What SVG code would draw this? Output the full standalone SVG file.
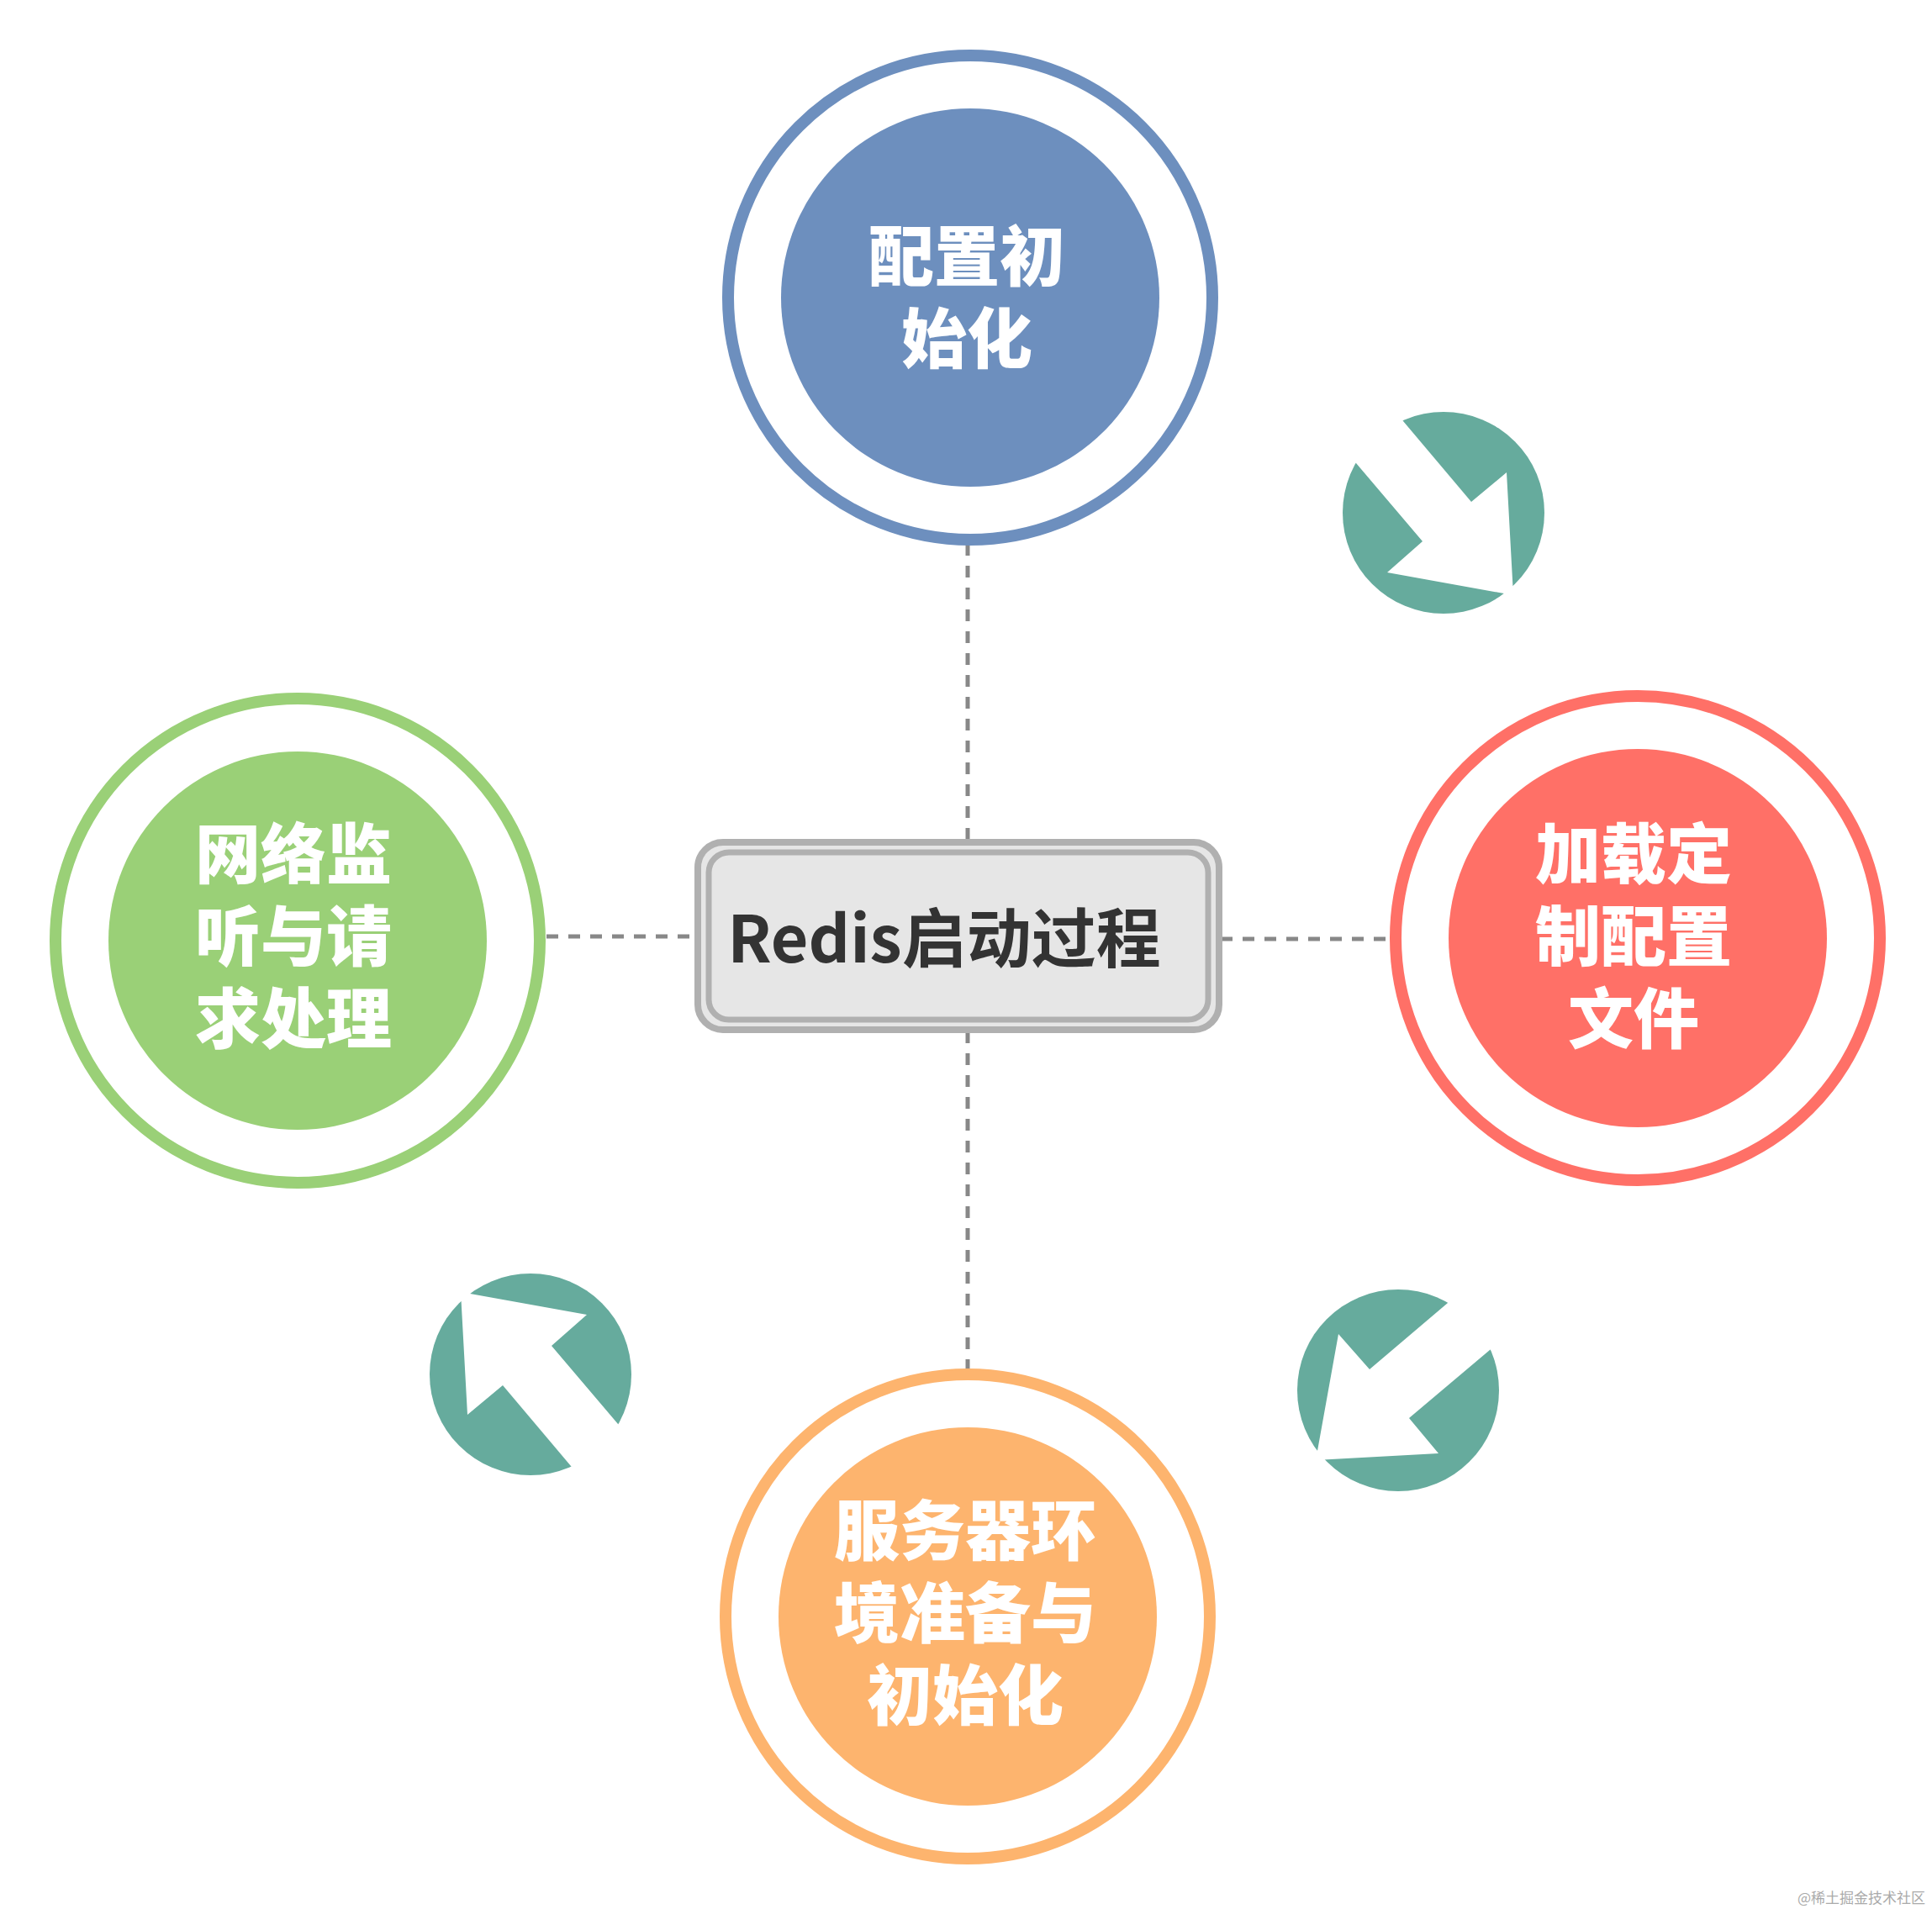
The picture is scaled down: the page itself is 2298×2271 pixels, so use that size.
<svg xmlns="http://www.w3.org/2000/svg" width="2298" height="2271" viewBox="0 0 2298 2271">
<style>
.ct{font-family:"Noto Sans CJK SC","Noto Sans",sans-serif;font-weight:900;font-size:78px;fill:#fff;text-anchor:middle}
.ring{fill:#fff;stroke-width:14}
.dash{stroke:#888;stroke-width:5;stroke-dasharray:14 12;fill:none}
.teal{fill:#66ab9d}
</style>
<defs>
<polygon id="arw" fill="#fff" points="-103,-174 -48,-109 33,-13 75,-48 83,98 -67,71 -25,34 -104,-59 -159,-124"/>
</defs>
<rect width="2298" height="2271" fill="#fff"/>
<g id="connectors">
<line class="dash" x1="1151" y1="647" x2="1151" y2="1000"/>
<line class="dash" x1="1151" y1="1227" x2="1151" y2="1630"/>
<line class="dash" x1="650" y1="1114" x2="828" y2="1114"/>
<line class="dash" x1="1452" y1="1117" x2="1655" y2="1117"/>
</g>
<g id="n-top">
<circle class="ring" cx="1154" cy="354" r="288" stroke="#6d8fbe"/>
<circle cx="1154" cy="354" r="225" fill="#6d8fbe"/>
<text class="ct" x="1150" y="334">配置初</text>
<text class="ct" x="1150" y="432">始化</text>
</g>
<g id="n-left">
<circle class="ring" cx="354" cy="1119" r="288" stroke="#9ad077"/>
<circle cx="354" cy="1119" r="225" fill="#9ad077"/>
<text class="ct" x="349" y="1045">网络监</text>
<text class="ct" x="349" y="1143">听与请</text>
<text class="ct" x="349" y="1241">求处理</text>
</g>
<g id="n-right">
<circle class="ring" cx="1948" cy="1116" r="288" stroke="#ff7067"/>
<circle cx="1948" cy="1116" r="225" fill="#ff7067"/>
<text class="ct" x="1943" y="1045">加载定</text>
<text class="ct" x="1943" y="1143">制配置</text>
<text class="ct" x="1943" y="1241">文件</text>
</g>
<g id="n-bottom">
<circle class="ring" cx="1151" cy="1923" r="288" stroke="#fdb46e"/>
<circle cx="1151" cy="1923" r="225" fill="#fdb46e"/>
<text class="ct" x="1148" y="1850">服务器环</text>
<text class="ct" x="1148" y="1948">境准备与</text>
<text class="ct" x="1148" y="2046">初始化</text>
</g>
<g id="center">
<rect x="830" y="1002" width="620" height="223" rx="30" fill="#e6e6e6" stroke="#b0b0b0" stroke-width="8"/>
<rect x="843" y="1014" width="594" height="199" rx="24" fill="none" stroke="#b0b0b0" stroke-width="7"/>
<text x="1123" y="1145" text-anchor="middle" font-family="'Noto Sans CJK SC','Noto Sans',sans-serif" font-weight="700" font-size="77" fill="#333">Redis启动过程</text>
</g>
<g id="arrow-1" transform="translate(1717,610)">
<circle class="teal" r="120"/><use href="#arw"/>
</g>
<g id="arrow-2" transform="translate(1663,1654) rotate(90)">
<circle class="teal" r="120"/><use href="#arw"/>
</g>
<g id="arrow-3" transform="translate(631,1635) rotate(180)">
<circle class="teal" r="120"/><use href="#arw"/>
</g>
<text x="2290" y="2264" text-anchor="end" font-family="'Noto Sans CJK SC',sans-serif" font-size="17" fill="#aaa">@稀土掘金技术社区</text>
</svg>
